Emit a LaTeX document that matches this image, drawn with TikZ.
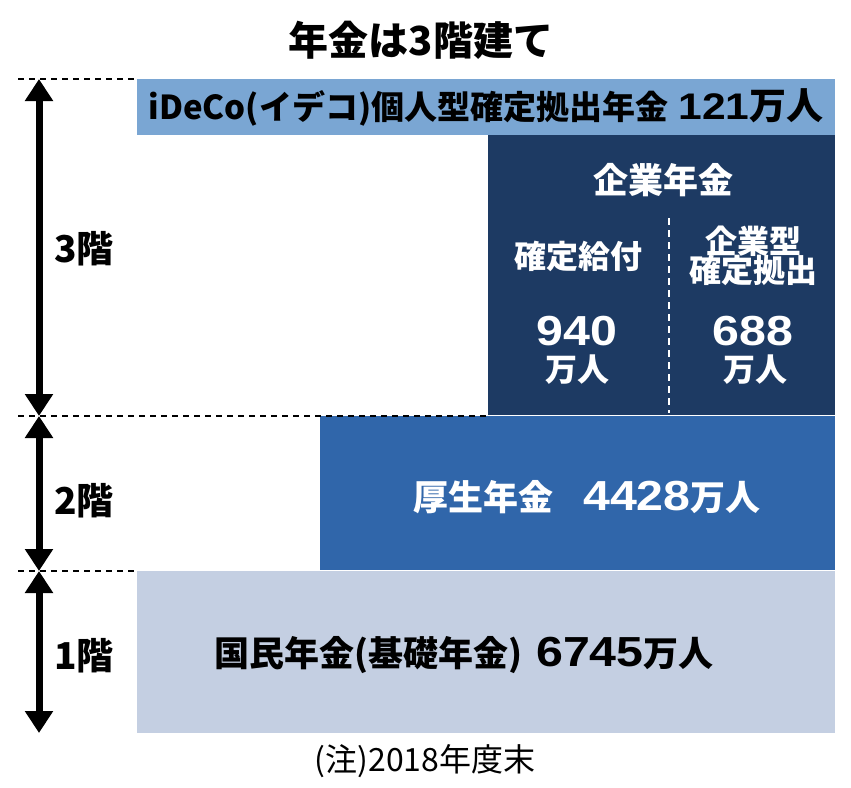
\documentclass[tikz,border=0pt]{standalone}
\usepackage{fontspec}
\setmainfont{Noto Sans CJK JP}
\newfontfamily\numfont{Liberation Sans}
\usetikzlibrary{arrows.meta}
\definecolor{idecoc}{RGB}{122,166,211}
\definecolor{navyc}{RGB}{29,58,99}
\definecolor{kouseic}{RGB}{48,102,170}
\definecolor{kokuminc}{RGB}{196,207,226}
\newcommand{\bignum}[2]{{\numfont\bfseries\fontsize{#1}{#1}\selectfont\scalebox{1.15}[1]{#2}}}
\tikzset{
  guide/.style={black, line width=1.1pt, dash pattern=on 6pt off 5pt},
  floorarrow/.style={line width=7pt, -{Triangle[length=22pt,width=27pt]}},
  lbl/.style={font=\fontsize{35}{35}\selectfont\bfseries, inner sep=0pt},
  wlbl/.style={lbl, text=white},
}
\begin{document}
\begin{tikzpicture}[x=1pt,y=-1pt]
\useasboundingbox (0,0) rectangle (851,787);
% title
\node[lbl, font=\fontsize{40}{40}\selectfont\bfseries] (title) at (421,40) {年金は3階建て};
% bars
\fill[idecoc] (137,79) rectangle (835,135);
\fill[navyc] (488,135) rectangle (835,415);
\fill[kouseic] (320,416) rectangle (835,570);
\fill[kokuminc] (137,571) rectangle (835,733);
% guides
\draw[guide] (18,79) -- (137,79);
\draw[guide] (18,416) -- (488,416);
\draw[guide] (18,571) -- (137,571);
\draw[white, line width=2pt, dash pattern=on 7pt off 5pt] (669,218) -- (669,413);
% coordinates for arrows
\coordinate (a3t) at (39,79);
\coordinate (a3b) at (39,416);
\coordinate (a2t) at (39,416);
\coordinate (a2b) at (39,571);
\coordinate (a1t) at (39,571);
\coordinate (a1b) at (39,733);
\coordinate (a3m) at (39,247);
\coordinate (a2m) at (39,493);
\coordinate (a1m) at (39,652);
\draw[floorarrow] (a3m) -- (a3t);
\draw[floorarrow] (a3m) -- (a3b);
\draw[floorarrow] (a2m) -- (a2t);
\draw[floorarrow] (a2m) -- (a2b);
\draw[floorarrow] (a1m) -- (a1t);
\draw[floorarrow] (a1m) -- (a1b);
\node[lbl, font=\fontsize{37}{37}\selectfont\bfseries] (f3) at (84,249) {3階};
\node[lbl, font=\fontsize{37}{37}\selectfont\bfseries] (f2) at (84,501) {2階};
\node[lbl, font=\fontsize{37}{37}\selectfont\bfseries] (f1) at (84,656) {1階};
% ideco
\node[lbl, font=\fontsize{33}{33}\selectfont\bfseries] (ideco) at (486,107)
  {iDeCo(イデコ)個人型確定拠出年金\hspace{10pt}\bignum{37}{121}{\fontsize{37}{37}\selectfont 万人}};
% corporate
\node[wlbl] (kigyo) at (663,180) {企業年金};
\node[wlbl, font=\fontsize{32}{32}\selectfont\bfseries] (kakutei) at (578,256) {確定給付};
\node[wlbl, font=\fontsize{32}{32}\selectfont\bfseries, align=center] (kigyogata) at (753,256) {企業型\\[-3pt]確定拠出};
\node[wlbl] (n940) at (577,331) {\bignum{42}{940}};
\node[wlbl, font=\fontsize{32}{32}\selectfont\bfseries] (m940) at (577,370) {万人};
\node[wlbl] (n688) at (753,331) {\bignum{42}{688}};
\node[wlbl, font=\fontsize{32}{32}\selectfont\bfseries] (m688) at (755,370) {万人};
% kousei
\node[wlbl] (kousei) at (587,497)
  {厚生年金\hspace{30pt}\bignum{42}{4428}万人};
% kokumin
\node[lbl] (kokumin) at (464,655)
  {国民年金(基礎年金)\hspace{14pt}\bignum{42}{6745}万人};
% note
\node[inner sep=0pt, font=\fontsize{32}{32}\selectfont] (note) at (425,761) {(注)2018年度末};
\end{tikzpicture}
\end{document}
